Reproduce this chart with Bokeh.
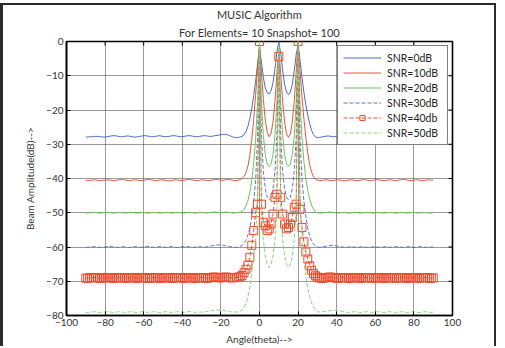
from bokeh.plotting import figure
from bokeh.models import Range1d, Legend, LegendItem, Title, FixedTicker
from bokeh.embed import file_html
from bokeh.resources import INLINE

theta = list(range(-90, 91))

snr0 = [
    -27.9,-27.9,-27.8,-27.8,-27.8,-27.7,-27.7,-27.8,-27.8,-27.9,
    -27.9,-27.8,-27.7,-27.6,-27.5,-27.5,-27.6,-27.7,-27.8,-27.8,
    -27.7,-27.6,-27.6,-27.7,-27.8,-27.9,-27.9,-27.8,-27.7,-27.6,
    -27.5,-27.5,-27.6,-27.7,-27.8,-27.8,-27.7,-27.6,-27.5,-27.6,
    -27.7,-27.8,-27.8,-27.7,-27.6,-27.5,-27.5,-27.6,-27.7,-27.8,
    -27.8,-27.7,-27.6,-27.5,-27.5,-27.6,-27.7,-27.8,-27.8,-27.7,
    -27.6,-27.5,-27.5,-27.6,-27.7,-27.7,-27.6,-27.5,-27.4,-27.3,
    -27.2,-27.1,-27.1,-27.2,-27.4,
    -27.6,-27.8,-28.0,-28.1,-28.0,-27.9,-27.7,-27.2,-26.3,-24.8,
    -22.5,-19.5,-15.8,-11.6,-6.5,-2.0,-6.0,-10.5,-13.5,-15.0,
    -15.3,-14.4,-12.0,-8.0,-3.2,0.0,-3.5,-8.5,-12.5,-14.8,
    -15.5,-14.8,-12.5,-8.6,-3.8,-1.0,-5.5,-10.5,-14.8,-18.5,
    -21.5,-24.0,-26.0,-27.2,-27.9,-28.1,
    -28.0,-27.9,-27.8,-27.7,-27.6,-27.6,-27.7,-27.8,-27.8,-27.7,
    -27.6,-27.6,-27.7,-27.8,-27.9,-27.9,-27.8,-27.7,-27.6,-27.6,
    -27.7,-27.8,-27.8,-27.7,-27.6,-27.5,-27.5,-27.6,-27.7,-27.8,
    -27.8,-27.7,-27.6,-27.6,-27.7,-27.8,-27.9,-27.9,-27.8,-27.7,
    -27.6,-27.6,-27.7,-27.8,-27.8,-27.7,-27.6,-27.6,-27.7,-27.8,
    -27.9,-27.9,-27.8,-27.7,-27.7,-27.8,-27.8,-27.9,-27.9,-27.9,
]

snr10 = [
    -40.6,-40.6,-40.5,-40.5,-40.4,-40.4,-40.5,-40.6,-40.6,-40.5,
    -40.5,-40.4,-40.4,-40.5,-40.6,-40.6,-40.5,-40.4,-40.3,-40.3,
    -40.4,-40.5,-40.6,-40.6,-40.5,-40.4,-40.4,-40.5,-40.6,-40.6,
    -40.5,-40.4,-40.3,-40.3,-40.4,-40.5,-40.6,-40.6,-40.5,-40.4,
    -40.4,-40.5,-40.6,-40.7,-40.6,-40.5,-40.4,-40.4,-40.5,-40.6,
    -40.6,-40.5,-40.4,-40.3,-40.3,-40.4,-40.5,-40.6,-40.6,-40.5,
    -40.4,-40.4,-40.5,-40.6,-40.6,-40.5,-40.4,-40.3,-40.3,-40.4,
    -40.5,-40.5,-40.4,-40.3,-40.3,
    -40.4,-40.5,-40.6,-40.6,-40.5,-40.3,-40.0,-39.4,-38.3,-36.4,
    -33.2,-28.6,-22.6,-15.5,-8.0,-0.5,-9.0,-17.0,-23.0,-26.5,
    -27.8,-26.8,-23.5,-17.5,-9.5,-2.5,-9.5,-17.5,-23.5,-27.0,
    -28.0,-27.0,-23.5,-17.5,-9.0,0.0,-8.5,-16.0,-22.5,-28.0,
    -32.5,-36.0,-38.2,-39.5,-40.2,-40.5,
    -40.6,-40.6,-40.5,-40.4,-40.4,-40.5,-40.6,-40.6,-40.5,-40.4,
    -40.4,-40.5,-40.6,-40.7,-40.6,-40.5,-40.4,-40.4,-40.5,-40.6,
    -40.6,-40.5,-40.4,-40.3,-40.4,-40.5,-40.6,-40.6,-40.5,-40.4,
    -40.3,-40.4,-40.5,-40.6,-40.6,-40.5,-40.4,-40.4,-40.5,-40.6,
    -40.6,-40.5,-40.4,-40.3,-40.3,-40.4,-40.5,-40.6,-40.6,-40.5,
    -40.4,-40.4,-40.5,-40.6,-40.6,-40.5,-40.4,-40.4,-40.5,-40.5,
]

snr20 = [
    -50.1,-50.1,-50.0,-50.0,-49.9,-49.9,-50.0,-50.1,-50.1,-50.0,
    -50.0,-49.9,-49.9,-50.0,-50.1,-50.1,-50.0,-49.9,-49.9,-50.0,
    -50.1,-50.1,-50.0,-49.9,-49.9,-50.0,-50.1,-50.1,-50.0,-49.9,
    -49.9,-50.0,-50.1,-50.1,-50.0,-49.9,-49.9,-50.0,-50.1,-50.1,
    -50.0,-49.9,-49.9,-50.0,-50.1,-50.1,-50.0,-49.9,-49.9,-50.0,
    -50.1,-50.1,-50.0,-49.9,-49.9,-50.0,-50.1,-50.1,-50.0,-49.9,
    -49.9,-50.0,-50.1,-50.1,-50.0,-49.9,-49.8,-49.8,-49.9,-50.0,
    -50.0,-49.9,-49.8,-49.8,-49.9,
    -50.0,-50.1,-50.1,-50.0,-49.9,-49.8,-49.6,-49.0,-48.0,-46.5,
    -44.0,-40.5,-35.5,-28.5,-18.0,-0.5,-18.0,-27.5,-33.0,-35.8,
    -36.5,-35.8,-33.0,-27.5,-18.0,-2.0,-18.0,-27.5,-33.0,-35.8,
    -36.5,-35.8,-33.0,-27.5,-18.0,0.0,-18.0,-28.0,-35.0,-40.0,
    -43.5,-46.0,-47.8,-49.0,-49.7,-50.0,
    -50.1,-50.1,-50.0,-49.9,-49.9,-49.8,-49.8,-49.9,-50.0,-50.1,
    -50.1,-50.0,-49.9,-49.9,-50.0,-50.1,-50.1,-50.0,-49.9,-49.9,
    -50.0,-50.1,-50.1,-50.0,-49.9,-49.9,-50.0,-50.1,-50.1,-50.0,
    -49.9,-49.9,-50.0,-50.1,-50.1,-50.0,-49.9,-49.9,-50.0,-50.1,
    -50.1,-50.0,-49.9,-49.9,-50.0,-50.1,-50.1,-50.0,-49.9,-49.9,
    -50.0,-50.1,-50.1,-50.0,-49.9,-49.9,-50.0,-50.1,-50.1,-50.0,
]

snr30 = [
    -60.1,-60.1,-60.0,-60.0,-59.9,-59.9,-60.0,-60.1,-60.1,-60.0,
    -60.0,-59.9,-59.8,-59.8,-59.9,-60.0,-60.1,-60.1,-60.0,-59.9,
    -59.9,-60.0,-60.1,-60.1,-60.0,-59.9,-59.9,-60.0,-60.1,-60.1,
    -60.0,-59.9,-59.8,-59.9,-60.0,-60.1,-60.1,-60.0,-59.9,-59.9,
    -60.0,-60.1,-60.1,-60.0,-59.9,-59.9,-60.0,-60.1,-60.1,-60.0,
    -59.9,-59.8,-59.8,-59.9,-60.0,-60.1,-60.1,-60.0,-59.9,-59.9,
    -60.0,-60.1,-60.0,-59.9,-59.8,-59.7,-59.6,-59.5,-59.4,-59.4,
    -59.4,-59.5,-59.6,-59.7,-59.8,
    -59.9,-60.0,-60.1,-60.1,-60.0,-59.8,-59.5,-59.0,-58.0,-56.5,
    -54.5,-51.5,-47.0,-40.5,-28.0,-0.3,-28.0,-38.0,-43.0,-45.5,
    -46.2,-45.5,-43.0,-38.0,-28.0,-3.0,-28.0,-38.0,-43.0,-45.5,
    -46.2,-45.5,-43.0,-38.0,-28.0,0.0,-28.5,-40.0,-46.5,-51.0,
    -54.5,-56.8,-58.3,-59.2,-59.7,-60.0,
    -60.1,-60.0,-59.9,-59.8,-59.7,-59.6,-59.5,-59.5,-59.6,-59.7,
    -59.8,-59.9,-60.0,-60.1,-60.1,-60.0,-59.9,-59.9,-60.0,-60.1,
    -60.1,-60.0,-59.9,-59.9,-60.0,-60.1,-60.1,-60.0,-59.9,-59.9,
    -60.0,-60.1,-60.1,-60.0,-59.9,-59.9,-60.0,-60.1,-60.1,-60.0,
    -59.9,-59.9,-60.0,-60.1,-60.1,-60.0,-59.9,-59.9,-60.0,-60.1,
    -60.1,-60.0,-59.9,-59.9,-60.0,-60.1,-60.1,-60.0,-60.0,-60.0,
]

snr40 = [
    -69.1,-69.1,-69.0,-69.0,-68.9,-68.9,-69.0,-69.1,-69.1,-69.0,
    -69.0,-68.9,-68.9,-69.0,-69.1,-69.1,-69.0,-68.9,-68.9,-69.0,
    -69.1,-69.1,-69.0,-68.9,-68.9,-69.0,-69.1,-69.1,-69.0,-68.9,
    -68.9,-69.0,-69.1,-69.1,-69.0,-68.9,-68.9,-69.0,-69.1,-69.1,
    -69.0,-68.9,-68.9,-69.0,-69.1,-69.1,-69.0,-68.9,-68.9,-69.0,
    -69.1,-69.1,-69.0,-68.9,-68.9,-69.0,-69.1,-69.1,-69.0,-68.9,
    -68.9,-69.0,-69.1,-69.1,-69.0,-68.9,-68.8,-68.8,-68.9,-69.0,
    -69.0,-68.9,-68.8,-68.8,-68.9,
    -69.0,-69.0,-68.9,-68.9,-68.8,-68.7,-68.3,-67.5,-66.5,-65.3,
    -63.0,-59.5,-55.2,-50.0,-47.5,0.0,-47.5,-52.8,-53.8,-55.2,
    -54.7,-53.3,-50.4,-45.5,-44.6,-4.4,-45.5,-50.4,-53.3,-54.7,
    -54.3,-53.3,-51.4,-48.4,-47.5,0.0,-49.0,-54.3,-58.5,-61.5,
    -63.5,-65.5,-66.8,-67.8,-68.4,-68.8,
    -69.0,-69.1,-69.1,-69.0,-68.9,-68.8,-68.8,-68.9,-69.0,-69.1,
    -69.1,-69.0,-68.9,-68.9,-69.0,-69.1,-69.1,-69.0,-68.9,-68.9,
    -69.0,-69.1,-69.1,-69.0,-68.9,-68.9,-69.0,-69.1,-69.1,-69.0,
    -68.9,-68.9,-69.0,-69.1,-69.1,-69.0,-68.9,-68.9,-69.0,-69.1,
    -69.1,-69.0,-68.9,-68.9,-69.0,-69.1,-69.1,-69.0,-68.9,-68.9,
    -69.0,-69.1,-69.1,-69.0,-68.9,-68.9,-69.0,-69.1,-69.1,-69.0,
]

snr50 = [
    -79.1,-79.1,-79.0,-79.0,-78.9,-78.9,-79.0,-79.1,-79.1,-79.0,
    -79.0,-78.9,-78.9,-79.0,-79.1,-79.1,-79.0,-78.9,-78.9,-79.0,
    -79.1,-79.1,-79.0,-78.9,-78.9,-79.0,-79.1,-79.1,-79.0,-78.9,
    -78.9,-79.0,-79.1,-79.1,-79.0,-78.9,-78.9,-79.0,-79.1,-79.1,
    -79.0,-78.9,-78.9,-79.0,-79.1,-79.1,-79.0,-78.9,-78.9,-79.0,
    -79.1,-79.1,-79.0,-78.9,-78.8,-78.9,-79.0,-79.1,-79.1,-79.0,
    -79.0,-79.0,-78.9,-78.8,-78.7,-78.6,-78.5,-78.4,-78.4,-78.4,
    -78.4,-78.5,-78.6,-78.7,-78.8,
    -78.9,-79.0,-79.0,-79.0,-78.9,-78.8,-78.5,-77.8,-76.5,-74.5,
    -71.5,-67.5,-63.0,-58.0,-45.0,0.0,-50.0,-58.0,-62.5,-65.0,
    -66.0,-65.0,-62.5,-58.0,-50.0,-1.0,-50.0,-58.0,-62.5,-65.0,
    -66.0,-65.0,-62.5,-58.0,-50.0,0.0,-47.0,-58.0,-64.0,-68.5,
    -72.0,-74.5,-76.3,-77.6,-78.4,-78.9,
    -79.0,-79.0,-78.9,-78.8,-78.7,-78.6,-78.5,-78.4,-78.4,-78.5,
    -78.6,-78.7,-78.8,-78.9,-79.0,-79.1,-79.1,-79.0,-78.9,-78.9,
    -79.0,-79.1,-79.1,-79.0,-78.9,-78.9,-79.0,-79.1,-79.1,-79.0,
    -78.9,-78.9,-79.0,-79.1,-79.1,-79.0,-78.9,-78.9,-79.0,-79.1,
    -79.1,-79.0,-78.9,-78.9,-79.0,-79.1,-79.1,-79.0,-78.9,-78.9,
    -79.0,-79.1,-79.1,-79.0,-78.9,-78.9,-79.0,-79.1,-79.1,-79.0,
]

labels = ["SNR=0dB", "SNR=10dB", "SNR=20dB", "SNR=30dB", "SNR=40db", "SNR=50dB"]
x_ticks = [-100, -80, -60, -40, -20, 0, 20, 40, 60, 80, 100]
y_ticks = [-80, -70, -60, -50, -40, -30, -20, -10, 0]

FONT = "Lato"
X0, X1, Y0, Y1 = -100, 100, -80, 0

p = figure(width=496, height=343, x_range=Range1d(X0, X1), y_range=Range1d(Y0, Y1),
           output_backend="svg", toolbar_location=None,
           min_border_left=63, min_border_right=47, min_border_top=35, min_border_bottom=33)
p.styles = {"border-left": "3px solid #2b2b2b", "border-top": "2px solid #2b2b2b",
            "border-right": "2px solid #2b2b2b", "margin-top": "3px"}
p.background_fill_color = "white"
p.border_fill_color = "white"
p.outline_line_color = "black"
p.outline_line_width = 1.6

p.title.text = "MUSIC Algorithm"
p.title.align = "center"
p.title.text_font = FONT
p.title.text_font_size = "11px"
p.title.text_font_style = "normal"
p.title.text_color = "#333333"
p.title.standoff = 0
p.title.offset = 0
p.add_layout(Title(text="For Elements= 10 Snapshot= 100", align="center", text_font=FONT,
                   text_font_size="11px", text_font_style="normal", text_color="#333333",
                   standoff=6), "above")

# grid
for g, t in ((p.xgrid[0], x_ticks), (p.ygrid[0], y_ticks)):
    g.ticker = FixedTicker(ticks=t)
    g.grid_line_color = "#222222"
    g.grid_line_dash = "1 1"
    g.grid_line_width = 1
    g.grid_line_alpha = 0.9

# inward ticks on the top and right edges (MATLAB box style)
xt_in = [t for t in x_ticks if X0 < t < X1]
yt_in = [t for t in y_ticks if Y0 < t < Y1]
p.segment(x0=xt_in, y0=[Y1] * len(xt_in), x1=xt_in, y1=[Y1 - 1.2] * len(xt_in),
          line_color="black", line_width=1)
p.segment(x0=[X1] * len(yt_in), y0=yt_in, x1=[X1 - 2.1] * len(yt_in), y1=yt_in,
          line_color="black", line_width=1)

colors = ["#4a6cbf", "#e8523f", "#6fc45a", "#5577cc", "#ee4a2a", "#8fd37c"]
dashes = ["solid", "solid", "solid", "4 2", "4 2", "4 2"]
series = [snr0, snr10, snr20, snr30, snr40, snr50]

items = []
for i, (ys, c, d, lab) in enumerate(zip(series, colors, dashes, labels)):
    r = p.line(theta, ys, line_color=c, line_width=1, line_dash=d)
    rs = [r]
    if i == 4:
        s = p.scatter(theta, ys, marker="square", size=8, line_color=c, fill_alpha=0, line_width=1)
        rs.append(s)
    items.append(LegendItem(label=lab, renderers=rs))

legend = Legend(items=items, location="top_right", margin=4, padding=5, spacing=2,
                label_height=13, glyph_height=13, glyph_width=38, label_standoff=6, label_width=55,
                label_text_font=FONT, label_text_font_size="10.5px", label_text_color="#222222",
                border_line_color="black", border_line_width=1, background_fill_color="white",
                background_fill_alpha=1)
p.add_layout(legend, "center")

for ax in (p.xaxis[0], p.yaxis[0]):
    ax.major_tick_in = 4
    ax.major_tick_out = 0
    ax.minor_tick_line_color = None
    ax.axis_line_color = "black"
    ax.axis_line_width = 1.6
    ax.major_tick_line_color = "black"
    ax.major_label_text_font = FONT
    ax.major_label_text_font_size = "10px"
    ax.major_label_text_color = "#333333"
    ax.axis_label_text_font = FONT
    ax.axis_label_text_font_size = "10px"
    ax.axis_label_text_font_style = "normal"
    ax.axis_label_text_color = "#333333"

p.xaxis[0].ticker = FixedTicker(ticks=x_ticks)
p.yaxis[0].ticker = FixedTicker(ticks=y_ticks)
p.xaxis[0].axis_label = "Angle(theta)-->"
p.yaxis[0].axis_label = "Beam Amplitude(dB)-->"
p.xaxis[0].major_label_standoff = 3
p.yaxis[0].major_label_standoff = 3
p.xaxis[0].axis_label_standoff = 4
p.yaxis[0].axis_label_standoff = 7

open("out.html", "w").write(file_html(p, INLINE))
